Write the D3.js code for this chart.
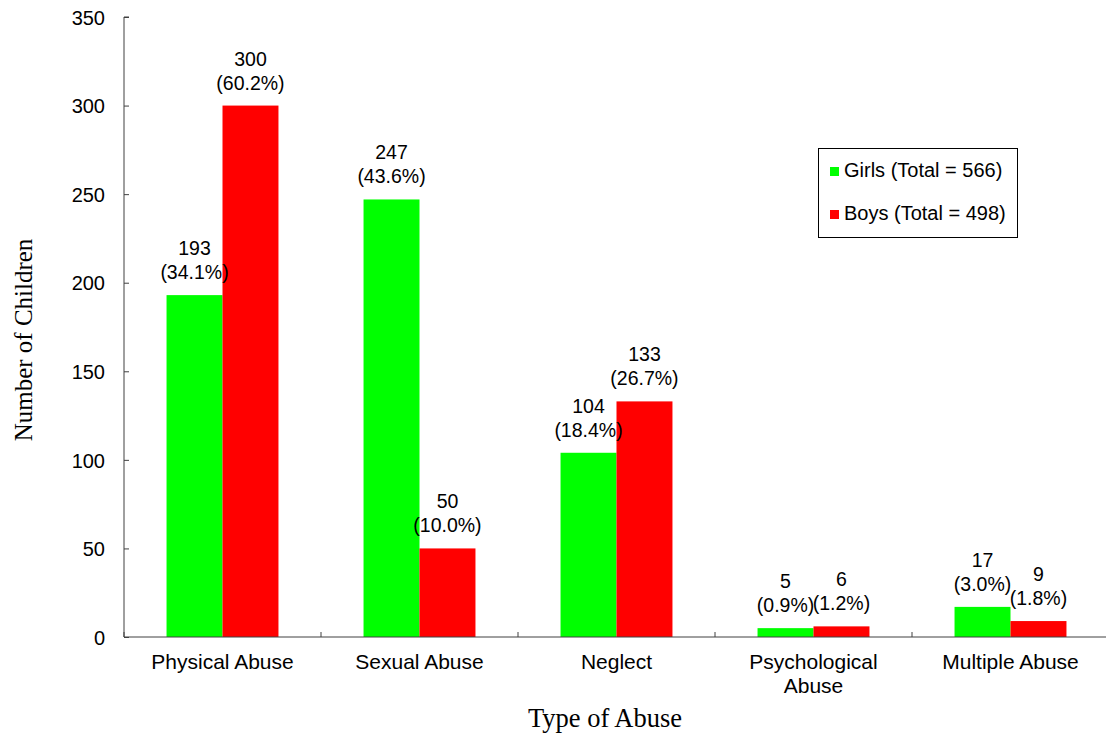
<!DOCTYPE html>
<html>
<head>
<meta charset="utf-8">
<script src="https://cdn.jsdelivr.net/npm/d3@7"></script>
<style>
  html, body { margin: 0; padding: 0; background: #fff; }
  svg { display: block; }
</style>
</head>
<body>
<svg id="chart" width="1106" height="736"></svg>
<script>
// Abuse categories (multi-line labels split on "\n")
const categories = ["Physical Abuse", "Sexual Abuse", "Neglect", "Psychological\nAbuse", "Multiple Abuse"];
const seriesNames = ["Girls (Total = 566)", "Boys (Total = 498)"];
const girls = [193, 247, 104, 5, 17];
const boys = [300, 50, 133, 6, 9];
const girlsPct = ["34.1%", "43.6%", "18.4%", "0.9%", "3.0%"];
const boysPct = ["60.2%", "10.0%", "26.7%", "1.2%", "1.8%"];
const yTicks = [0, 50, 100, 150, 200, 250, 300, 350];
const colors = ["#00ff00", "#ff0000"];

(function () {
  const svg = d3.select("#chart");
  const sans = "Arial, 'Liberation Sans', sans-serif";
  const serif = "'Times New Roman', 'Liberation Serif', serif";
  const axisColor = "#404040";

  const plotLeft = 124, plotTop = 17, plotBottom = 637;
  const bandW = 197;
  const plotRight = plotLeft + bandW * categories.length;

  const x = d3.scaleBand().domain(d3.range(categories.length)).range([plotLeft, plotRight]).paddingInner(0).paddingOuter(0);
  const inner = d3.scaleBand().domain([0, 1]).range([0, bandW]).paddingInner(0).paddingOuter(0.76);
  const y = d3.scaleLinear().domain([0, 350]).range([plotBottom, plotTop]);

  // Y axis with inward ticks
  const yAxis = svg.append("g").attr("transform", `translate(${plotLeft},0)`)
    .call(d3.axisRight(y).tickValues(yTicks).tickSize(5).tickFormat(d3.format("d")));
  yAxis.select(".domain").attr("d", `M5,${plotTop}H0V${plotBottom}`).attr("stroke", axisColor);
  yAxis.selectAll(".tick line").attr("stroke", axisColor);
  yAxis.selectAll(".tick text")
    .attr("x", -19).attr("text-anchor", "end").attr("dy", "0.36em")
    .attr("font-family", sans).attr("font-size", 20).attr("fill", "#000");

  // Bars
  const series = [girls, boys];
  const g = svg.append("g");
  series.forEach((vals, si) => {
    g.selectAll(null).data(vals).enter().append("rect")
      .attr("x", (d, i) => x(i) + inner(si))
      .attr("y", d => y(d))
      .attr("width", inner.bandwidth())
      .attr("height", d => y(0) - y(d))
      .attr("fill", colors[si]);
  });

  // Value labels: count and percentage above each bar
  const pcts = [girlsPct, boysPct];
  series.forEach((vals, si) => {
    vals.forEach((v, i) => {
      const cx = x(i) + inner(si) + inner.bandwidth() / 2;
      const t = svg.append("text")
        .attr("text-anchor", "middle")
        .attr("font-family", sans).attr("font-size", 19.5).attr("fill", "#000");
      t.append("tspan").attr("x", cx).attr("y", y(v) - 40).text(v);
      t.append("tspan").attr("x", cx).attr("y", y(v) - 16).text(`(${pcts[si][i]})`);
    });
  });

  // X axis: baseline with ticks between categories
  const xAxis = svg.append("g");
  xAxis.append("line").attr("x1", plotLeft).attr("x2", plotRight).attr("y1", plotBottom).attr("y2", plotBottom)
    .attr("stroke", axisColor);
  d3.range(categories.length + 1).forEach(i => {
    const tx = plotLeft + i * bandW;
    xAxis.append("line").attr("x1", tx).attr("x2", tx).attr("y1", plotBottom).attr("y2", plotBottom - 5)
      .attr("stroke", axisColor);
  });
  categories.forEach((c, i) => {
    const t = xAxis.append("text").attr("text-anchor", "middle")
      .attr("font-family", sans).attr("font-size", 21).attr("fill", "#000");
    c.split("\n").forEach((line, li) => {
      t.append("tspan").attr("x", x(i) + bandW / 2).attr("y", 669 + li * 24).text(line);
    });
  });

  // Axis titles
  svg.append("text").attr("x", 605).attr("y", 727).attr("text-anchor", "middle")
    .attr("font-family", serif).attr("font-size", 26.5).attr("fill", "#000").text("Type of Abuse");
  svg.append("text").attr("transform", "translate(32,340) rotate(-90)").attr("text-anchor", "middle")
    .attr("font-family", serif).attr("font-size", 25).attr("fill", "#000").text("Number of Children");

  // Legend
  const lg = svg.append("g");
  lg.append("rect").attr("x", 818.5).attr("y", 148.5).attr("width", 199).attr("height", 89)
    .attr("fill", "#fff").attr("stroke", "#000");
  seriesNames.forEach((name, i) => {
    const ly = 177 + i * 43;
    lg.append("rect").attr("x", 830).attr("y", ly - 10).attr("width", 9).attr("height", 9).attr("fill", colors[i]);
    lg.append("text").attr("x", 844).attr("y", ly).attr("font-family", sans).attr("font-size", 20)
      .attr("fill", "#000").text(name);
  });
})();
</script>
</body>
</html>
